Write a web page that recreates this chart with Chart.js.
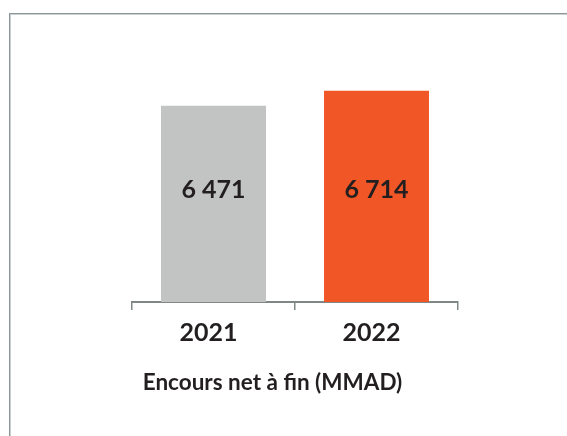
<!DOCTYPE html>
<html>
<head>
<meta charset="utf-8">
<script src="https://cdn.jsdelivr.net/npm/chart.js@4"></script>
<style>
  html, body { margin: 0; padding: 0; background: #fff; overflow: hidden; }
  #frame { position: absolute; left: 9px; top: 13px; right: -20px; bottom: -20px;
    border-top: 1px solid #8d9797; border-left: 1px solid #8d9797;
    box-shadow: inset 1px 1px 0 #c9d0d0; }
  #wrap { position: absolute; left: 0; top: 0; width: 567px; height: 436px; }
</style>
</head>
<body>
<div id="frame"></div>
<div id="wrap"><canvas id="barChart" width="567" height="436"></canvas></div>
<script>
var years = ['2021', '2022'];
var encours = [6471, 6714];
var barColors = ['#c2c4c3', '#f15627'];
var chartTitle = 'Encours net à fin (MMAD)';

// writes the value inside each bar, at the same height for both
var valueLabels = {
    id: 'valueLabels',
    afterDatasetsDraw: function (chart) {
        var ctx = chart.ctx;
        var meta = chart.getDatasetMeta(0);
        var y = chart.chartArea.bottom - 112;
        ctx.save();
        ctx.font = 'bold 25px Lato';
        ctx.fillStyle = '#231f20';
        ctx.textAlign = 'center';
        ctx.textBaseline = 'middle';
        meta.data.forEach(function (bar, i) {
            var txt = encours[i].toLocaleString('fr-FR').replace(/\s/g, ' ');
            ctx.fillText(txt, bar.x, y);
        });
        ctx.restore();
    }
};

var ctx = document.getElementById('barChart');
var barChart = new Chart(ctx, {
    type: 'bar',
    data: {
        labels: years,
        datasets: [{
            data: encours,
            backgroundColor: barColors,
            borderWidth: 0,
            barPercentage: 0.644,
            categoryPercentage: 1
        }]
    },
    options: {
        responsive: false,
        animation: false,
        devicePixelRatio: 1,
        layout: { padding: { left: 87, right: 109, top: 42, bottom: 40 } },
        plugins: {
            legend: { display: false },
            tooltip: { enabled: false },
            title: {
                display: true,
                position: 'bottom',
                text: chartTitle,
                color: '#231f20',
                font: { family: 'Lato', size: 22.5, weight: 'bold', lineHeight: 1.2 },
                padding: 0
            }
        },
        scales: {
            x: {
                offset: true,
                grid: { offset: true, drawOnChartArea: false, drawTicks: true, tickLength: 8, color: '#7f8787', lineWidth: 1.5 },
                border: { display: true, color: '#7f8787', width: 2 },
                ticks: { color: '#231f20', padding: 8, labelOffset: -5, font: { family: 'Lato', size: 25, weight: 'bold' } },
                afterFit: function (scale) { scale.height = 67; }
            },
            y: {
                min: 3300,
                max: 7500,
                grid: { display: false },
                border: { display: false },
                ticks: { display: false },
                afterFit: function (scale) { scale.width = 45; }
            }
        }
    },
    plugins: [valueLabels]
});
</script>
</body>
</html>
